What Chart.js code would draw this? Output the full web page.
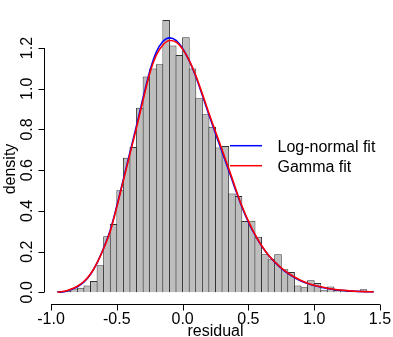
<!DOCTYPE html>
<html><head><meta charset="utf-8">
<script src="https://cdn.jsdelivr.net/npm/chart.js@4"></script>
<style>html,body{margin:0;padding:0;background:#fff;}canvas{display:block;}</style>
</head><body>
<canvas id="c" width="393" height="337"></canvas>
<script>
// Histogram bins (centres, width 0.05) and densities
const binCenters = [-0.925,-0.875,-0.825,-0.775,-0.725,-0.675,-0.625,-0.575,-0.525,-0.475,
  -0.425,-0.375,-0.325,-0.275,-0.225,-0.175,-0.125,-0.075,-0.025,0.025,
  0.075,0.125,0.175,0.225,0.275,0.325,0.375,0.425,0.475,0.525,
  0.575,0.625,0.675,0.725,0.775,0.825,0.875,0.925,0.975,1.025,
  1.075,1.125,1.175,1.225,1.275,1.325,1.375,1.425];
const density = [0.006,0.006,0.019,0.022,0.034,0.055,0.133,0.276,0.335,0.502,
  0.661,0.714,0.907,1.060,1.100,1.120,1.338,1.213,1.166,1.253,
  1.100,0.953,0.875,0.814,0.712,0.719,0.486,0.473,0.350,0.352,
  0.273,0.187,0.162,0.187,0.113,0.100,0.034,0.025,0.059,0.046,
  0.010,0.028,0.011,0.008,0.008,0.006,0.015,0.007];

// Fitted curves
const curveX = [-0.95,-0.90,-0.85,-0.80,-0.75,-0.70,-0.65,-0.60,-0.55,-0.50,
  -0.45,-0.40,-0.35,-0.30,-0.25,-0.20,-0.15,-0.10,-0.05,0.00,
  0.05,0.10,0.15,0.20,0.25,0.30,0.35,0.40,0.45,0.50,
  0.55,0.60,0.65,0.70,0.75,0.80,0.85,0.90,0.95,1.00,
  1.05,1.10,1.15,1.20,1.25,1.30,1.35,1.40,1.45];
const lognormalFit = [0.000,0.003,0.012,0.027,0.051,0.089,0.145,0.218,0.305,0.425,
  0.556,0.688,0.820,0.957,1.085,1.180,1.232,1.250,1.238,1.198,
  1.138,1.060,0.968,0.872,0.780,0.690,0.600,0.508,0.420,0.345,
  0.282,0.228,0.184,0.148,0.118,0.093,0.073,0.056,0.043,0.033,
  0.025,0.019,0.014,0.010,0.007,0.005,0.004,0.003,0.002];
const gammaFit = [0.000,0.005,0.015,0.030,0.053,0.090,0.145,0.215,0.300,0.420,
  0.550,0.680,0.810,0.945,1.075,1.165,1.215,1.237,1.230,1.195,
  1.140,1.065,0.975,0.880,0.790,0.700,0.610,0.515,0.425,0.350,
  0.285,0.230,0.185,0.150,0.120,0.095,0.075,0.058,0.045,0.035,
  0.027,0.020,0.015,0.011,0.008,0.006,0.004,0.003,0.002];

const xTicks = [-1.0,-0.5,0.0,0.5,1.0,1.5];
const xTickLabels = ['-1.0','-0.5','0.0','0.5','1.0','1.5'];
const yTicks = [0.0,0.2,0.4,0.6,0.8,1.0,1.2];
const yTickLabels = ['0.0','0.2','0.4','0.6','0.8','1.0','1.2'];
const legendLabels = ['Log-normal fit','Gamma fit'];
const legendColors = ['#0000FF','#FF0000'];
const xTitle = 'residual';
const yTitle = 'density';

const FONT = '16px "Liberation Sans", Arial, sans-serif';

const rPlot = {
  id: 'rPlot',
  afterDraw(chart) {
    const ctx = chart.ctx, xs = chart.scales.x, ys = chart.scales.y;
    ctx.save();
    ctx.strokeStyle = '#000'; ctx.fillStyle = '#000'; ctx.lineWidth = 1; ctx.font = FONT;
    // x axis
    const ay = Math.round(ys.bottom) + 0.5;
    const x0 = xs.getPixelForValue(xTicks[0]), x1 = xs.getPixelForValue(xTicks[xTicks.length-1]);
    ctx.beginPath(); ctx.moveTo(x0, ay); ctx.lineTo(x1, ay);
    xTicks.forEach(v => { const px = Math.round(xs.getPixelForValue(v)) + 0.5; ctx.moveTo(px, ay); ctx.lineTo(px, ay + 6); });
    ctx.stroke();
    ctx.textAlign = 'center'; ctx.textBaseline = 'alphabetic';
    xTicks.forEach((v, i) => ctx.fillText(xTickLabels[i], xs.getPixelForValue(v), 324));
    // y axis
    const ax = Math.round(xs.left) - 0.5;
    const y0 = ys.getPixelForValue(yTicks[0]), y1 = ys.getPixelForValue(yTicks[yTicks.length-1]);
    ctx.beginPath(); ctx.moveTo(ax, y0); ctx.lineTo(ax, y1);
    yTicks.forEach(v => { const py = Math.round(ys.getPixelForValue(v)) + 0.5; ctx.moveTo(ax, py); ctx.lineTo(ax - 6, py); });
    ctx.stroke();
    yTicks.forEach((v, i) => {
      ctx.save(); ctx.translate(31.5, ys.getPixelForValue(v)); ctx.rotate(-Math.PI/2);
      ctx.fillText(yTickLabels[i], 0, 0); ctx.restore();
    });
    // titles
    ctx.fillText(xTitle, (xs.left + xs.right) / 2, 335.5);
    ctx.save(); ctx.translate(15, 169); ctx.rotate(-Math.PI/2); ctx.fillText(yTitle, 0, 0); ctx.restore();
    // legend
    ctx.textAlign = 'left';
    legendLabels.forEach((lab, i) => {
      const ly = 145.7 + i * 20;
      ctx.strokeStyle = legendColors[i]; ctx.lineWidth = 1.5;
      ctx.beginPath(); ctx.moveTo(230, ly); ctx.lineTo(262, ly); ctx.stroke();
      ctx.fillStyle = '#000';
      ctx.fillText(lab, 277.5, ly + 5.8);
    });
    ctx.restore();
  }
};

new Chart(document.getElementById('c'), {
  type: 'bar',
  data: {
    datasets: [
      {
        type: 'bar',
        data: binCenters.map((x, i) => ({x, y: density[i]})),
        backgroundColor: '#BEBEBE', borderColor: '#333333', borderWidth: 1,
        barPercentage: 1.15, categoryPercentage: 1, inflateAmount: 0, order: 3
      },
      {
        type: 'line', label: legendLabels[0],
        data: curveX.map((x, i) => ({x, y: lognormalFit[i]})),
        borderColor: legendColors[0], borderWidth: 1.6, pointRadius: 0, fill: false,
        cubicInterpolationMode: 'monotone', order: 2
      },
      {
        type: 'line', label: legendLabels[1],
        data: curveX.map((x, i) => ({x, y: gammaFit[i]})),
        borderColor: legendColors[1], borderWidth: 1.6, pointRadius: 0, fill: false,
        cubicInterpolationMode: 'monotone', order: 1
      }
    ]
  },
  options: {
    responsive: false, animation: false, devicePixelRatio: 1,
    layout: { padding: { left: 45, right: 7, top: 2, bottom: 33 } },
    scales: {
      x: { type: 'linear', min: -1.046, max: 1.546, display: false, offset: false },
      y: { type: 'linear', min: -0.0575, max: 1.4265, display: false }
    },
    plugins: { legend: { display: false }, tooltip: { enabled: false } }
  },
  plugins: [rPlot]
});
</script>
</body></html>
